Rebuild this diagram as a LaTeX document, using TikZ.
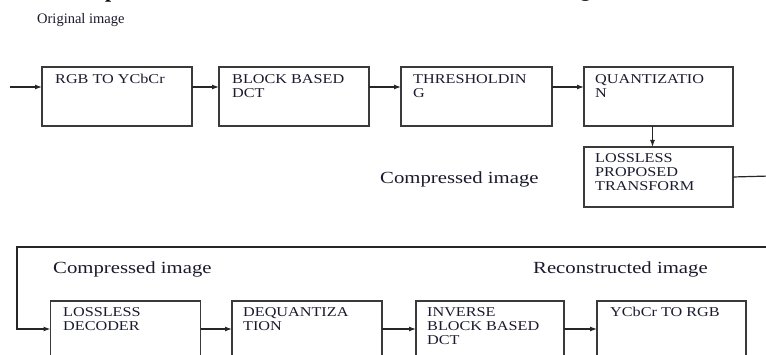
\documentclass[tikz,border=0pt]{standalone}
\usepackage{fontspec}
\setmainfont{Liberation Serif}
\newfontfamily\boxfont[FakeStretch=1.2]{Liberation Serif}
\newfontfamily\lblfont[FakeStretch=1.22]{Liberation Serif}
\usetikzlibrary{arrows.meta}
\definecolor{boxcol}{HTML}{3A3A3A}
\definecolor{txtcol}{HTML}{1A1A2E}
\tikzset{
  blk/.style={draw=boxcol, line width=1.5pt, anchor=north west, inner sep=0pt, outer sep=0pt,
              minimum width=150pt, minimum height=59pt},
  btxt/.style={anchor=north west, inner sep=0pt, align=left, text=txtcol,
               font=\boxfont\fontsize{13.5}{14}\selectfont},
  lbl/.style={anchor=base west, inner sep=0pt, text=txtcol,
              font=\lblfont\fontsize{17}{20}\selectfont},
  conn/.style={draw=black!85, line width=1.2pt},
  arr/.style={conn, -{Latex[length=7pt,width=5pt]}}
}
\begin{document}
\begin{tikzpicture}[x=1pt,y=-1pt]
\useasboundingbox (0,0) rectangle (766,355);
\clip (0,0) rectangle (766,355);
% cropped heading fragments
\node[anchor=base west, inner sep=0pt, font=\bfseries\fontsize{22}{24}\selectfont] (hp) at (105,-2.5) {p};
\node[anchor=base west, inner sep=0pt, font=\bfseries\fontsize{22}{24}\selectfont] (hg) at (580,-3) {g};
% labels
\node[anchor=base west, inner sep=0pt, text=txtcol, font=\fontsize{14.5}{17}\selectfont] (orig) at (37,24) {Original image};
\node[lbl] (comp1) at (380,184) {Compressed image};
\node[lbl] (comp2) at (53,274) {Compressed image};
\node[lbl] (recon) at (533,274) {Reconstructed image};
% boxes
\node[blk] (b1) at (42,67) {};
\node[blk] (b2) at (219,67) {};
\node[blk, minimum width=151pt] (b3) at (401,67) {};
\node[blk, minimum width=149pt] (b4) at (584,67) {};
\node[blk, minimum width=149pt, minimum height=60pt] (b5) at (584,147) {};
\node[blk, minimum height=62pt] (b6) at (50.5,301) {};
\node[blk, minimum height=62pt] (b7) at (232,301) {};
\node[blk, minimum width=148pt, minimum height=62pt] (b8) at (416,301) {};
\node[blk, minimum width=149pt, minimum height=62pt] (b9) at (597,301) {};
% box texts
\node[btxt] (t1) at ([xshift=13pt,yshift=-7pt]b1.north west) {RGB TO YCbCr};
\node[btxt] (t2) at ([xshift=13pt,yshift=-7pt]b2.north west) {BLOCK BASED\\DCT};
\node[btxt] (t3) at ([xshift=12pt,yshift=-7pt]b3.north west) {THRESHOLDIN\\G};
\node[btxt] (t4) at ([xshift=11pt,yshift=-7pt]b4.north west) {QUANTIZATIO\\N};
\node[btxt] (t5) at ([xshift=11pt,yshift=-6pt]b5.north west) {LOSSLESS\\PROPOSED\\TRANSFORM};
\node[btxt] (t6) at ([xshift=12.5pt,yshift=-6pt]b6.north west) {LOSSLESS\\DECODER};
\node[btxt] (t7) at ([xshift=11pt,yshift=-6pt]b7.north west) {DEQUANTIZA\\TION};
\node[btxt] (t8) at ([xshift=11pt,yshift=-6pt]b8.north west) {INVERSE\\BLOCK BASED\\DCT};
\node[btxt] (t9) at ([xshift=13pt,yshift=-6pt]b9.north west) {YCbCr TO RGB};
% connectors
\coordinate (in) at (10,87);
\draw[arr] (in) -- (in -| b1.west);
\draw[arr] ([yshift=-20pt]b1.north east) -- ([yshift=-20pt]b2.north west);
\draw[arr] ([yshift=-20pt]b2.north east) -- ([yshift=-20pt]b3.north west);
\draw[arr] ([yshift=-20pt]b3.north east) -- ([yshift=-20pt]b4.north west);
\draw[arr] ([xshift=-6pt]b4.south) -- ([xshift=-6pt]b5.north);
\coordinate (outR) at (770,176);
\draw[conn] (b5.east) -- (outR);
\coordinate (retR) at (770,247);
\coordinate (retL) at (17,247);
\draw[arr] (retR) -- (retL) -- (retL |- 0,329) -- ([yshift=-28pt]b6.north west);
\draw[arr] ([yshift=-28pt]b6.north east) -- ([yshift=-28pt]b7.north west);
\draw[arr] ([yshift=-28pt]b7.north east) -- ([yshift=-28pt]b8.north west);
\draw[arr] ([yshift=-28pt]b8.north east) -- ([yshift=-28pt]b9.north west);
\end{tikzpicture}
\end{document}
